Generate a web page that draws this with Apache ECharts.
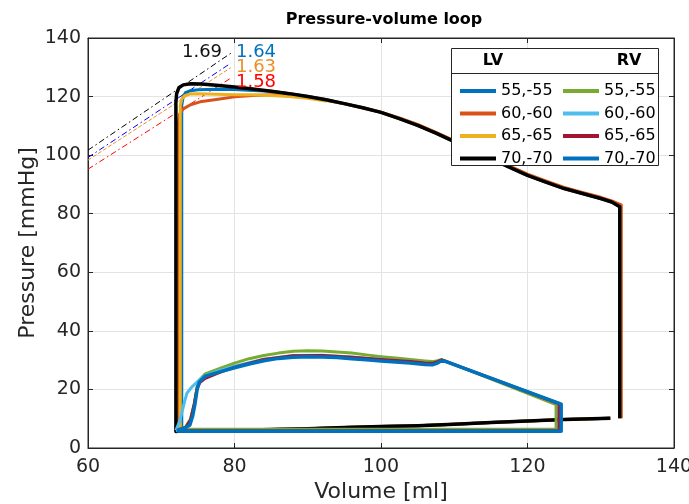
<!DOCTYPE html>
<html>
<head>
<meta charset="utf-8">
<script src="https://cdn.jsdelivr.net/npm/echarts@6/dist/echarts.min.js"></script>
<style>
  html, body { margin: 0; padding: 0; background: #fff; }
  #chart { width: 689px; height: 504px; }
</style>
</head>
<body>
<div id="chart"></div>
<script>
// LV loops [volume, pressure]
var lvTop = [
  [132.6, 82.4], [131.5, 84], [130, 85.2], [127.5, 86.9], [125, 88.6], [122.5, 90.8],
  [120, 93.1], [117.5, 95.9], [115, 98.8], [112.5, 101.7], [110, 104.6], [107.5, 107.5],
  [105, 110.2], [102.5, 112.5], [100, 114.6], [97.5, 116.2], [95, 117.6], [92.5, 118.9],
  [90, 120], [87.5, 121], [85, 121.8]
];
var lvBottom = [
  [72.5, 5.8], [80, 6.0], [85, 6.3], [90, 6.6], [95, 7.0], [100, 7.3], [105, 7.6],
  [110, 8.1], [115, 8.7], [120, 9.2], [125, 9.7], [131.3, 10.2]
];
var lv55Left = [[82.5, 122.1], [80, 122.4], [77.5, 122.5], [75, 122.3], [74, 122], [73.3, 121.3], [73, 120], [72.8, 117], [72.8, 5.6]];
var lv60Top = [
  [132.8, 10.2], [132.8, 83], [131.5, 84.4], [130, 85.6], [127.5, 87.3], [125, 89], [122.5, 91.2],
  [120, 93.5], [117.5, 96.3], [115, 99.2], [112.5, 102.1], [110, 105], [107.5, 107.8],
  [105, 110.5], [102.5, 112.7], [100, 114.7], [97.5, 116.2], [95, 117.5], [92.5, 118.7],
  [90, 119.7], [87.5, 120.4], [85, 120.6], [82.5, 120.4], [80, 119.9], [77.5, 119],
  [75.3, 118.2], [74, 117.2], [73, 115.8], [72.5, 114], [72.3, 110], [72.3, 5.6]
];
var lv65Left = [[92.5, 118.5], [90, 119.4], [87.5, 120], [85, 120.4], [82.5, 120.6], [80, 120.6], [77.5, 120.8], [75, 121], [74, 120.9], [73.2, 120.3], [72.8, 119.2], [72.6, 117], [72.6, 5.6]];
var lv70Left = [[82.5, 122.6], [80, 123.3], [77.5, 123.9], [75.5, 124.3], [74, 124.4], [73, 124], [72.4, 123], [72.1, 121], [72, 118], [72, 5.6]];

// RV loops
var rv55 = [
  [72.2, 6.4], [73.3, 7], [74, 10], [74.5, 15], [74.9, 21], [75.3, 23.5], [76, 25.3], [78, 27.2],
  [80, 29], [82, 30.5], [84, 31.6], [86, 32.4], [88, 33], [90, 33.2], [92, 33.1], [94, 32.8],
  [96, 32.4], [98, 31.8], [100, 31.2], [102, 30.7], [104, 30.2], [106, 29.7], [107, 29.5],
  [107.7, 29.8], [108.3, 30.2], [123.9, 14.8], [123.9, 6.4], [72.5, 6.4]
];
var rv60 = [
  [72, 6], [72.5, 9], [72.8, 12], [73.2, 16], [73.5, 18.7], [74.2, 20.9], [75, 22.8], [76, 24.8],
  [78, 26.5], [80, 27.9], [84, 30.3], [88, 31.6], [92, 31.7], [96, 31.1], [100, 30.3], [104, 29.5],
  [106, 29], [107, 28.8], [107.7, 29.3], [108.3, 30], [124.3, 15.2], [124.3, 5.9], [72.5, 5.9], [72, 6]
];
var rv65 = [
  [72.2, 6], [73.3, 7], [74, 9.5], [74.5, 15], [74.9, 20.5], [75.3, 22.4], [76, 23.8], [78, 25.8],
  [80, 27.6], [84, 30.2], [88, 31.5], [92, 31.6], [96, 31], [100, 30.2], [104, 29.5], [106, 29],
  [107, 28.9], [107.7, 29.5], [108.3, 30.1], [124.3, 15.1], [124.3, 5.9], [72.5, 5.9]
];
var rv70 = [
  [72.1, 6], [73, 6.6], [73.9, 7.8], [74.3, 11], [74.6, 15], [74.9, 20], [75.2, 22.5], [76, 24.5],
  [78, 26], [80, 27.4], [82, 28.7], [84, 29.8], [86, 30.6], [88, 31], [90, 31.2], [92, 31.1],
  [94, 30.9], [96, 30.5], [98, 30.1], [100, 29.7], [102, 29.4], [104, 29], [106, 28.5], [107, 28.4],
  [107.6, 28.9], [108.2, 29.7], [108.8, 29.6], [124.6, 15], [124.6, 5.7], [74, 5.7], [72.1, 5.8]
];

// ESPVR lines (x from 60 to 79.5)
var espvrX = [60, 79.5];
var espvrStartY = [101.7, 99.2, 98.3, 95.2];
var espvrEndY = [134.8, 131.4, 129.9, 126.3];
var slopeTexts = ['1.69', '1.64', '1.63', '1.58'];
var slopeLabelX = [78.3, 80.2, 80.2, 80.2];
var slopeLabelY = [135.2, 135.2, 130.0, 124.9];

var lvNames = ['LV 55,-55', 'LV 60,-60', 'LV 65,-65', 'LV 70,-70'];
var rvNames = ['RV 55,-55', 'RV 60,-60', 'RV 65,-65', 'RV 70,-70'];

var lvColors = ['#0072BD', '#D95319', '#EDB120', '#000000'];
var rvColors = ['#77AC30', '#4DBEEE', '#A2142F', '#0072BD'];
var espvrColors = ['#000000', '#0000FF', '#E8912B', '#FF0000'];
var slopeColors = ['#111111', '#0072BD', '#E8912B', '#FF0000'];
var espvrDash = [[6, 3, 1.5, 3], [6, 3, 1.5, 3], [4, 2], [6, 3, 1.5, 3]];

function lvLoop(left) {
  return [[132.6, 10.2]].concat(lvTop, left, lvBottom);
}
var lvData = [lvLoop(lv55Left), lv60Top.concat(lvBottom), lvLoop(lv65Left), lvLoop(lv70Left)];
var rvData = [rv55, rv60, rv65, rv70];

var font = 'DejaVu Sans';
var series = [];

espvrStartY.forEach(function (y0, i) {
  series.push({
    name: 'espvr' + i, type: 'line', symbol: 'none', silent: true, z: 1,
    data: [[espvrX[0], y0], [espvrX[1], espvrEndY[i]]],
    lineStyle: { color: espvrColors[i], width: 1, type: espvrDash[i] }
  });
});

lvNames.forEach(function (n, i) {
  series.push({
    name: n, type: 'line', symbol: 'none', data: lvData[i], color: lvColors[i],
    lineStyle: { color: lvColors[i], width: i === 3 ? 3.5 : 3, join: 'round' }
  });
});
rvNames.forEach(function (n, i) {
  series.push({
    name: n, type: 'line', symbol: 'none', data: rvData[i], color: rvColors[i],
    lineStyle: { color: rvColors[i], width: i === 3 ? 3.5 : 3, join: 'round' }
  });
});

slopeTexts.forEach(function (t, i) {
  series.push({
    name: 'slope' + i, type: 'scatter', symbolSize: 0, silent: true, z: 5,
    itemStyle: { opacity: 1 },
    data: [[slopeLabelX[i], slopeLabelY[i]]],
    label: {
      show: true, formatter: t, position: i === 0 ? 'left' : 'right', distance: 0,
      color: slopeColors[i], fontSize: 18, fontFamily: font, opacity: 1
    }
  });
});

var axisColor = '#262626';
var tickStyle = { show: true, inside: true, length: 5, lineStyle: { color: axisColor } };

var chart = echarts.init(document.getElementById('chart'));
chart.setOption({
  animation: false,
  backgroundColor: '#fff',
  title: {
    text: 'Pressure-volume loop', left: 379, top: 7, textAlign: 'center',
    textStyle: { fontFamily: font, fontSize: 16, fontWeight: 'bold', color: '#000' }
  },
  grid: {
    left: 88, right: 15, top: 38, bottom: 56, outerBoundsMode: 'none', containLabel: false,
    show: true, borderColor: axisColor, borderWidth: 1, backgroundColor: 'transparent'
  },
  xAxis: [{
    type: 'value', min: 60, max: 140, interval: 20, position: 'bottom',
    name: 'Volume [ml]', nameLocation: 'middle', nameGap: 33, nameMoveOverlap: false,
    nameTextStyle: { fontFamily: font, fontSize: 22, color: axisColor },
    axisLine: { show: true, lineStyle: { color: axisColor } },
    axisTick: tickStyle,
    axisLabel: { fontFamily: font, fontSize: 19, color: axisColor, margin: 10 },
    splitLine: { show: true, lineStyle: { color: '#e3e3e3' } }
  }, {
    type: 'value', min: 60, max: 140, interval: 20, position: 'top',
    axisLine: { show: true, onZero: false, lineStyle: { color: axisColor } },
    axisTick: tickStyle, axisLabel: { show: false }, splitLine: { show: false }
  }],
  yAxis: [{
    type: 'value', min: 0, max: 140, interval: 20, position: 'left',
    name: 'Pressure [mmHg]', nameLocation: 'middle', nameGap: 49, nameMoveOverlap: false,
    nameTextStyle: { fontFamily: font, fontSize: 22, color: axisColor },
    axisLine: { show: true, lineStyle: { color: axisColor } },
    axisTick: tickStyle,
    axisLabel: { fontFamily: font, fontSize: 19, color: axisColor, margin: 7 },
    splitLine: { show: true, lineStyle: { color: '#e3e3e3' } }
  }, {
    type: 'value', min: 0, max: 140, interval: 20, position: 'right',
    axisLine: { show: true, onZero: false, lineStyle: { color: axisColor } },
    axisTick: tickStyle, axisLabel: { show: false }, splitLine: { show: false }
  }],
  legend: [{
    data: lvNames, orient: 'vertical', left: 455, top: 78, z: 20,
    icon: 'rect', itemWidth: 36, itemHeight: 4, itemGap: 6.5,
    formatter: function (n) { return n.slice(3); },
    textStyle: { fontFamily: font, fontSize: 16, color: '#000', lineHeight: 16 },
    selectedMode: false
  }, {
    data: rvNames, orient: 'vertical', left: 558, top: 78, z: 20,
    icon: 'rect', itemWidth: 36, itemHeight: 4, itemGap: 6.5,
    formatter: function (n) { return n.slice(3); },
    textStyle: { fontFamily: font, fontSize: 16, color: '#000', lineHeight: 16 },
    selectedMode: false
  }],
  graphic: [
    { type: 'rect', z: 10, shape: { x: 451.5, y: 48.5, width: 207, height: 117 },
      style: { fill: '#fff', stroke: '#262626', lineWidth: 1 } },
    { type: 'line', z: 11, shape: { x1: 451.5, y1: 73.5, x2: 658.5, y2: 73.5 },
      style: { stroke: '#262626', lineWidth: 1 } },
    { type: 'text', z: 11, x: 493, y: 61, style: { text: 'LV', fontFamily: font, fontSize: 16, fontWeight: 'bold', fill: '#000', align: 'center', verticalAlign: 'middle' } },
    { type: 'text', z: 11, x: 629, y: 61, style: { text: 'RV', fontFamily: font, fontSize: 16, fontWeight: 'bold', fill: '#000', align: 'center', verticalAlign: 'middle' } }
  ],
  series: series
});
</script>
</body>
</html>
